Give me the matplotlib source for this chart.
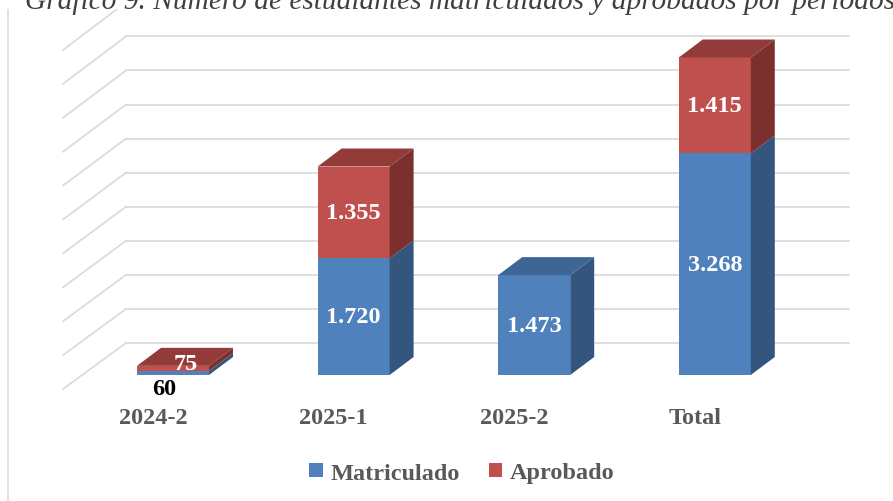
import matplotlib
matplotlib.use("Agg")
import matplotlib.pyplot as plt
from matplotlib.patches import Polygon, Rectangle, Patch

plt.rcParams['font.family'] = ['Liberation Serif', 'DejaVu Serif']

# data
periodos = ["2024-2", "2025-1", "2025-2", "Total"]
matriculado = [60, 1720, 1473, 3268]
aprobado = [75, 1355, 0, 1415]
niveles = list(range(0, 5001, 500))

# layout (pixel based pseudo-3D)
W, H = 893, 502
PX_CAT = 180.6          # pixels between bar centers
X0 = 173                # front centre of first bar
PX_VAL = 0.0678         # pixels per unit
FLOOR = 376             # front floor, pixels from top
BAR_W = 72 / PX_CAT
DX = 24 / PX_CAT        # bar depth
DY = 18 / PX_VAL
WALL_X0, WALL_X1, WALL_FRONT_X = (126 - X0) / PX_CAT, (849 - X0) / PX_CAT, (63 - X0) / PX_CAT
WALL_BACK_DY = (FLOOR - 344) / PX_VAL
WALL_FRONT_DY = (FLOOR - 390) / PX_VAL

c_blue = ("#4F81BD", "#34557E", "#3D6696")
c_red = ("#C0504D", "#7B302E", "#933B38")

fig = plt.figure(figsize=(W / 100, H / 100), dpi=100)
ax = fig.add_axes([0, 0, 1, 1])
ax.set_xlim(-X0 / PX_CAT, (W - X0) / PX_CAT)
ax.set_ylim((FLOOR - H) / PX_VAL, FLOOR / PX_VAL)
ax.axis('off')

# back wall gridlines + left wall
grid_c = "#D9D9D9"
for v in niveles:
    yb = v * 1.005 + WALL_BACK_DY
    yf = v + WALL_FRONT_DY
    ax.plot([WALL_FRONT_X, WALL_X0], [yf, yb], color=grid_c, lw=1.2, zorder=1)
    ax.plot([WALL_X0, WALL_X1], [yb, yb], color=grid_c, lw=1.2, zorder=1)

# bars
for i in range(len(periodos)):
    segs = [(0, matriculado[i], c_blue), (matriculado[i], matriculado[i] + aprobado[i], c_red)]
    segs = [s for s in segs if s[1] > s[0]]
    xl, xr = i - BAR_W / 2, i + BAR_W / 2
    for k, (y0, y1, cols) in enumerate(segs):
        ax.add_patch(Rectangle((xl, y0), BAR_W, y1 - y0, facecolor=cols[0], edgecolor='none', zorder=3))
        ax.add_patch(Polygon([(xr, y0), (xr + DX, y0 + DY), (xr + DX, y1 + DY), (xr, y1)],
                             closed=True, facecolor=cols[1], edgecolor='none', zorder=3))
        if k == len(segs) - 1:
            ax.add_patch(Polygon([(xl, y1), (xr, y1), (xr + DX, y1 + DY), (xl + DX, y1 + DY)],
                                 closed=True, facecolor=cols[2], edgecolor='none', zorder=3))


def fmt(v):
    return f"{v:,}".replace(",", ".")


lab_kw = dict(ha='center', va='center', fontsize=17.5, fontweight='bold', zorder=6)
for i in range(len(periodos)):
    m, a = matriculado[i], aprobado[i]
    if i == 0:
        ax.annotate(fmt(m), (i, 0), xytext=(-6, -10), textcoords='offset points', color='black', **lab_kw)
        ax.annotate(fmt(a), (i, m + a), xytext=(9, 2), textcoords='offset points', color='white', **lab_kw)
        continue
    ax.text(i, m / 2, fmt(m), color='white', **lab_kw)
    if a > 0:
        ax.text(i, m + a / 2, fmt(a), color='white', **lab_kw)

# category labels
for i, p in enumerate(periodos):
    ax.text(i - 20 / PX_CAT, (FLOOR - 419) / PX_VAL, p, ha='center', va='center',
            fontsize=17.5, fontweight='bold', color='#595959')

# chart border (left edge) and white band behind the title
fig.add_artist(plt.Line2D([8 / W, 8 / W], [0, 1 - 10 / H], color=grid_c, lw=1.1))
fig.add_artist(Rectangle((0, 1 - 10 / H), 1, 10 / H, transform=fig.transFigure,
                         facecolor='white', edgecolor='none', zorder=5))

fig.text(25 / W, 1 - 9 / H, "Gráfico 9. Número de estudiantes matriculados y aprobados por periodos",
         ha='left', va='baseline', fontsize=21.2, style='italic', color='#404040', zorder=6)

handles = [Patch(facecolor=c_blue[0]), Patch(facecolor=c_red[0])]
leg = fig.legend(handles, ["Matriculado", "Aprobado"], loc='center', bbox_to_anchor=(0.517, 1 - 474 / H),
                 ncol=2, frameon=False, handlelength=0.55, handleheight=0.55, handletextpad=0.3,
                 columnspacing=1.2, prop=dict(size=17.5, weight='bold'))
for t in leg.get_texts():
    t.set_color('#595959')

fig.savefig("out.png", dpi=100)
